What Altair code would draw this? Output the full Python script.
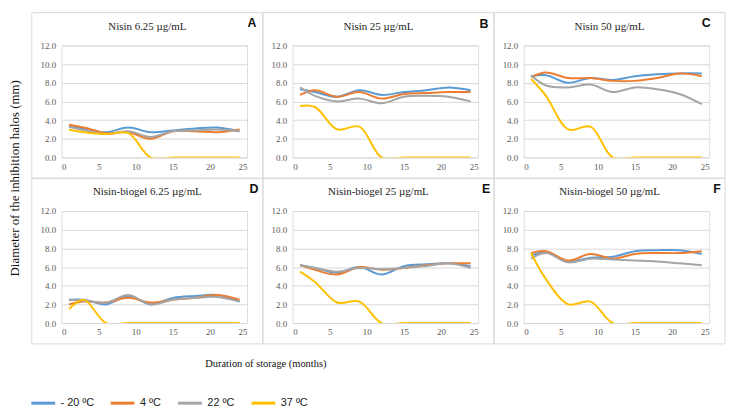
import altair as alt
import pandas as pd

months = [1, 3, 6, 9, 12, 15, 18, 21, 24]
temps = ["- 20 ºC", "4 ºC", "22 ºC", "37 ºC"]
colors = ["#5B9BD5", "#ED7D31", "#A5A5A5", "#FFC000"]
panel_titles = ["Nisin 6.25 µg/mL", "Nisin 25 µg/mL", "Nisin 50 µg/mL",
                "Nisin-biogel 6.25 µg/mL", "Nisin-biogel 25 µg/mL", "Nisin-biogel 50 µg/mL"]
panel_letters = ["A", "B", "C", "D", "E", "F"]
y_ticks = [0, 2, 4, 6, 8, 10, 12]
x_ticks = [0, 5, 10, 15, 20, 25]
y_title = "Diameter of the inhibition halos (mm)"
x_title = "Duration of storage (months)"

# Panel A: Nisin 6.25
A_m20 = [3.4, 3.1, 2.7, 3.2, 2.7, 2.9, 3.1, 3.2, 2.8]
A_4 = [3.5, 3.2, 2.6, 2.7, 2.0, 2.8, 2.8, 2.7, 3.0]
A_22 = [3.3, 2.9, 2.5, 2.8, 2.2, 2.8, 2.9, 3.0, 2.8]
A_37 = [3.0, 2.7, 2.5, 2.6, 0, 0, 0, 0, 0]
# Panel B: Nisin 25
B_m20 = [7.3, 7.0, 6.5, 7.2, 6.7, 7.0, 7.2, 7.5, 7.2]
B_4 = [6.7, 7.2, 6.5, 7.0, 6.3, 6.8, 6.9, 7.0, 7.0]
B_22 = [7.5, 6.6, 6.0, 6.3, 5.8, 6.5, 6.6, 6.5, 6.0]
B_37 = [5.5, 5.4, 3.0, 3.3, 0, 0, 0, 0, 0]
# Panel C: Nisin 50
C_m20 = [8.7, 8.8, 8.0, 8.5, 8.3, 8.7, 8.9, 9.0, 9.0]
C_4 = [8.6, 9.1, 8.5, 8.5, 8.2, 8.2, 8.5, 9.0, 8.7]
C_22 = [8.8, 7.7, 7.5, 7.8, 7.0, 7.5, 7.3, 6.8, 5.7]
C_37 = [8.4, 6.6, 3.0, 3.3, 0, 0, 0, 0, 0]
# Panel D: Nisin-biogel 6.25
D_m20 = [2.5, 2.5, 2.0, 2.9, 2.0, 2.7, 2.9, 3.0, 2.3]
D_4 = [2.0, 2.3, 2.2, 2.7, 2.2, 2.5, 2.7, 3.0, 2.5]
D_22 = [2.5, 2.4, 2.2, 3.0, 2.0, 2.5, 2.7, 2.8, 2.3]
D_37 = [1.5, 2.5, 0, 0, 0, 0, 0, 0, 0]
# Panel E: Nisin-biogel 25
E_m20 = [6.2, 5.9, 5.4, 6.0, 5.2, 6.1, 6.3, 6.4, 6.1]
E_4 = [6.2, 5.7, 5.2, 6.0, 5.7, 5.9, 6.2, 6.4, 6.4]
E_22 = [6.2, 5.9, 5.5, 5.9, 5.8, 5.9, 6.1, 6.4, 5.9]
E_37 = [5.5, 4.4, 2.2, 2.3, 0, 0, 0, 0, 0]
# Panel F: Nisin-biogel 50
F_m20 = [7.2, 7.6, 6.6, 7.0, 7.1, 7.7, 7.8, 7.8, 7.4]
F_4 = [7.5, 7.7, 6.7, 7.4, 6.9, 7.4, 7.5, 7.5, 7.7]
F_22 = [6.9, 7.5, 6.5, 6.9, 6.8, 6.7, 6.6, 6.4, 6.2]
F_37 = [7.5, 4.7, 2.0, 2.3, 0, 0, 0, 0, 0]

panel_series = [
    [A_m20, A_4, A_22, A_37],
    [B_m20, B_4, B_22, B_37],
    [C_m20, C_4, C_22, C_37],
    [D_m20, D_4, D_22, D_37],
    [E_m20, E_4, E_22, E_37],
    [F_m20, F_4, F_22, F_37],
]

W, H = 187, 113
SERIF = "Liberation Serif"
letter_pos = [(W + 5, -23), (W + 6, -22), (W - 3, -23), (W + 7, -22), (W + 8, -22), (W + 8, -22)]

color_scale = alt.Scale(domain=temps, range=colors)
legend = alt.Legend(
    orient="none", legendX=-32, legendY=347, direction="horizontal", title=None,
    symbolType="stroke", symbolSize=576, symbolStrokeWidth=3,
    labelFont="Liberation Sans", labelFontSize=11, labelColor="#222",
    columnPadding=10, labelOffset=4,
)


def make_panel(i):
    rows = []
    for t, series in zip(temps, panel_series[i]):
        for m, v in zip(months, series):
            rows.append({"month": m, "value": v, "temp": t})
    df = pd.DataFrame(rows)
    base = alt.Chart(df).mark_line(interpolate="catmull-rom", clip=True, strokeWidth=2).encode(
        x=alt.X("month:Q", scale=alt.Scale(domain=[0, 25], nice=False),
                axis=alt.Axis(values=x_ticks, title=None, grid=False, domain=False, ticks=False,
                              labelFont=SERIF, labelFontSize=9, labelColor="#595959", labelPadding=5)),
        y=alt.Y("value:Q", scale=alt.Scale(domain=[0, 12], nice=False),
                axis=alt.Axis(values=y_ticks, format=".1f", title=None, domain=False, ticks=False,
                              gridColor="#d9d9d9", labelFont=SERIF, labelFontSize=9,
                              labelColor="#595959", labelPadding=6)),
        color=alt.Color("temp:N", scale=color_scale, legend=legend, sort=temps),
        detail="temp:N",
    )
    one = alt.Data(values=[{"k": 0}])
    frame = alt.Chart(one).mark_rect(filled=False, stroke="#d9d9d9", strokeWidth=1).encode(
        x=alt.value(-30), x2=alt.value(W + 16), y=alt.value(-33), y2=alt.value(H + 21))
    lx, ly = letter_pos[i]
    letter = alt.Chart(one).mark_text(text=panel_letters[i], font="Liberation Sans", fontWeight="bold",
                                      fontSize=12.5, color="#111", align="center", baseline="middle").encode(
        x=alt.value(lx), y=alt.value(ly))
    title = alt.Chart(one).mark_text(text=panel_titles[i], font=SERIF, fontSize=11, color="#222",
                                     align="center", baseline="middle").encode(
        x=alt.value((W - 14) / 2), y=alt.value(-19))
    layers = [frame, base, letter, title]
    if i == 0:
        layers.append(alt.Chart(one).mark_text(text=y_title, font=SERIF, fontSize=13, angle=270,
                                               color="#111", align="center", baseline="middle").encode(
            x=alt.value(-47), y=alt.value(134)))
    if i == 3:
        layers.append(alt.Chart(one).mark_text(text=x_title, font=SERIF, fontSize=10.5,
                                               color="#111", align="center", baseline="middle").encode(
            x=alt.value(206), y=alt.value(154)))
    return alt.layer(*layers).properties(width=W, height=H)


chart = alt.concat(*[make_panel(i) for i in range(6)], columns=3,
                   spacing={"row": 54, "column": 46}, bounds="flush").properties(
    padding={"left": 0, "top": 2, "right": 5, "bottom": 5},
).configure_view(stroke="#d9d9d9").configure(background="white")

chart.save("out.html", embed_options={"renderer": "svg", "actions": False})
